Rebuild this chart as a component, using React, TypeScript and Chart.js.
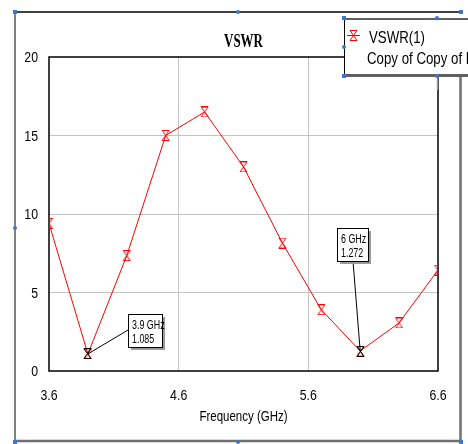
import React, { useEffect, useRef } from "react";
import { Chart, registerables } from "chart.js";

Chart.register(...registerables);

const frequencies = [3.6, 3.9, 4.2, 4.5, 4.8, 5.1, 5.4, 5.7, 6.0, 6.3, 6.6];
const vswr = [9.4, 1.085, 7.35, 15.0, 16.5, 13.0, 8.15, 3.9, 1.272, 3.06, 6.43];
const xTicks = [3.6, 4.6, 5.6, 6.6];
const yTicks = [0, 5, 10, 15, 20];
const markerFreqs = [3.9, 6.0];
const markerValues = [1.085, 1.272];
const markerLabels = [["3.9 GHz", "1.085"], ["6 GHz", "1.272"]];
const titleText = "VSWR";
const xAxisTitle = "Frequency (GHz)";
const legendLines = ["VSWR(1)", "Copy of Copy of D"];

const SANS = '"Liberation Sans", Arial, sans-serif';
const SQ = 0.82; // horizontal squeeze to mimic a narrow face

function narrowText(
  ctx: CanvasRenderingContext2D,
  text: string,
  x: number,
  y: number,
  size: number,
  align: CanvasTextAlign,
  baseline: CanvasTextBaseline = "alphabetic",
  squeeze: number = SQ
) {
  ctx.save();
  ctx.font = `${size}px ${SANS}`;
  ctx.textAlign = align;
  ctx.textBaseline = baseline;
  ctx.fillStyle = "#000";
  ctx.translate(x, y);
  ctx.scale(squeeze, 1);
  ctx.fillText(text, 0, 0);
  ctx.restore();
}

function hourglass(color: string): HTMLCanvasElement {
  const c = document.createElement("canvas");
  c.width = 9;
  c.height = 11;
  const g = c.getContext("2d")!;
  g.strokeStyle = color;
  g.lineWidth = 1;
  g.beginPath();
  g.moveTo(1, 0.5);
  g.lineTo(8, 0.5);
  g.lineTo(1, 10.5);
  g.lineTo(8, 10.5);
  g.closePath();
  g.stroke();
  return c;
}

function handle(ctx: CanvasRenderingContext2D, x: number, y: number, sq = false) {
  ctx.fillStyle = "#3a78d8";
  if (sq) ctx.fillRect(x - 2, y - 2, 4, 4);
  else {
    ctx.beginPath();
    ctx.arc(x, y, 2, 0, Math.PI * 2);
    ctx.fill();
  }
}

const decorPlugin = {
  id: "decor",
  beforeDraw(chart: any) {
    const ctx = chart.ctx as CanvasRenderingContext2D;
    ctx.save();
    ctx.fillStyle = "#ffffff";
    ctx.fillRect(0, 0, chart.width, chart.height);
    ctx.strokeStyle = "#000";
    ctx.lineWidth = 1.5;
    ctx.beginPath();
    ctx.moveTo(15, 12);
    ctx.lineTo(461, 12);
    ctx.stroke();
    ctx.strokeStyle = "#808080";
    ctx.lineWidth = 2;
    ctx.beginPath();
    ctx.moveTo(15, 12);
    ctx.lineTo(15, 442);
    ctx.stroke();
    ctx.strokeStyle = "#707070";
    ctx.lineWidth = 2.5;
    ctx.beginPath();
    ctx.moveTo(15, 441);
    ctx.lineTo(461, 441);
    ctx.moveTo(460.5, 75);
    ctx.lineTo(460.5, 442);
    ctx.stroke();
    ctx.restore();
  },
  beforeDatasetsDraw(chart: any) {
    const ctx = chart.ctx as CanvasRenderingContext2D;
    const a = chart.chartArea;
    ctx.save();
    ctx.strokeStyle = "#000";
    ctx.lineWidth = 1.5;
    ctx.strokeRect(a.left, a.top, a.right - a.left, a.bottom - a.top);
    ctx.restore();
  },
  afterDraw(chart: any) {
    const ctx = chart.ctx as CanvasRenderingContext2D;
    const xs = chart.scales.x;
    const ys = chart.scales.y;
    const a = chart.chartArea;
    ctx.save();
    // title
    ctx.fillStyle = "#000";
    ctx.font = 'bold 18px "Liberation Serif", "Times New Roman", serif';
    ctx.textAlign = "center";
    ctx.textBaseline = "alphabetic";
    ctx.save();
    ctx.translate(243.5, 46.5);
    ctx.scale(0.72, 1);
    ctx.fillText(titleText, 0, 0);
    ctx.restore();

    // tick labels
    xTicks.forEach((v) => {
      narrowText(ctx, v.toFixed(1), xs.getPixelForValue(v), a.bottom + 29, 15, "center");
    });
    yTicks.forEach((v) => {
      narrowText(ctx, String(v), a.left - 11, ys.getPixelForValue(v) + 1, 15, "right", "middle");
    });
    // x axis title
    narrowText(ctx, xAxisTitle, 243.5, 421, 14, "center");

    // annotations
    const black = hourglass("#000");
    const boxes = [
      { x: 128, y: 314, w: 34, h: 33, ax: 128, ay: 330 },
      { x: 337, y: 228, w: 31, h: 33, ax: 353, ay: 261 },
    ];
    markerFreqs.forEach((f, i) => {
      const px = xs.getPixelForValue(f);
      const py = ys.getPixelForValue(markerValues[i]);
      const b = boxes[i];
      ctx.strokeStyle = "#000";
      ctx.lineWidth = 1;
      ctx.beginPath();
      ctx.moveTo(b.ax, b.ay);
      ctx.lineTo(px, py);
      ctx.stroke();
      ctx.drawImage(black, Math.round(px - 4.5), Math.round(py - 5.5));
      ctx.fillStyle = "#9a9a9a";
      ctx.fillRect(b.x + 3, b.y + 3, b.w, b.h);
      ctx.fillStyle = "#fff";
      ctx.fillRect(b.x, b.y, b.w, b.h);
      ctx.strokeStyle = "#000";
      ctx.strokeRect(b.x + 0.5, b.y + 0.5, b.w, b.h);
      narrowText(ctx, markerLabels[i][0], b.x + 4, b.y + 15, 12, "left", "alphabetic", 0.74);
      narrowText(ctx, markerLabels[i][1], b.x + 4, b.y + 29, 12, "left", "alphabetic", 0.74);
    });

    // legend box
    ctx.fillStyle = "#fff";
    ctx.fillRect(344, 18, 130, 58);
    ctx.strokeStyle = "#000";
    ctx.lineWidth = 1;
    ctx.beginPath();
    ctx.moveTo(344.5, 18);
    ctx.lineTo(344.5, 76);
    ctx.stroke();
    ctx.strokeStyle = "#606060";
    ctx.lineWidth = 2;
    ctx.beginPath();
    ctx.moveTo(344, 19);
    ctx.lineTo(470, 19);
    ctx.stroke();
    ctx.lineWidth = 3;
    ctx.beginPath();
    ctx.moveTo(344, 75.5);
    ctx.lineTo(470, 75.5);
    ctx.stroke();
    ctx.strokeStyle = "#9a9a9a";
    ctx.lineWidth = 1.5;
    ctx.beginPath();
    ctx.moveTo(437.5, 77);
    ctx.lineTo(437.5, 90);
    ctx.stroke();
    ctx.strokeStyle = "#ff0000";
    ctx.lineWidth = 1;
    ctx.beginPath();
    ctx.moveTo(347, 35.5);
    ctx.lineTo(360, 35.5);
    ctx.stroke();
    ctx.drawImage(hourglass("#ff0000"), 349, 30);
    narrowText(ctx, legendLines[0], 369, 43, 17, "left", "alphabetic", 0.78);
    narrowText(ctx, legendLines[1], 367, 64, 17, "left", "alphabetic", 0.78);

    // selection handles
    handle(ctx, 15, 12, true);
    handle(ctx, 238, 12);
    handle(ctx, 461, 12, true);
    handle(ctx, 15, 228);
    handle(ctx, 15, 442, true);
    handle(ctx, 238, 442);
    handle(ctx, 461, 442, true);
    handle(ctx, 344, 18, true);
    handle(ctx, 344, 47);
    handle(ctx, 344, 76, true);
    handle(ctx, 437, 18);
    handle(ctx, 437, 76);
    ctx.restore();
  },
};

export default function App() {
  const ref = useRef<HTMLCanvasElement | null>(null);
  useEffect(() => {
    const canvas = ref.current!;
    const chart = new Chart(canvas, {
      type: "line",
      data: {
        datasets: [
          {
            label: legendLines[0],
            data: frequencies.map((f, i) => ({ x: f, y: vswr[i] })),
            borderColor: "#ff0000",
            backgroundColor: "#ff0000",
            borderWidth: 1,
            pointStyle: hourglass("#ff0000"),
            pointRadius: 5,
            tension: 0,
          },
        ],
      },
      options: {
        responsive: false,
        animation: false,
        events: [],
        layout: { padding: { top: 57, right: 30, left: 0, bottom: 0 } },
        plugins: {
          legend: { display: false },
          title: { display: false },
          tooltip: { enabled: false },
        },
        scales: {
          x: {
            type: "linear",
            min: 3.6,
            max: 6.6,
            afterBuildTicks: (s: any) => {
              s.ticks = xTicks.map((v) => ({ value: v }));
            },
            afterFit: (s: any) => {
              s.height = 73;
            },
            border: { display: false },
            grid: {
              drawTicks: false,
              color: (c: any) =>
                c.tick && (c.tick.value === 3.6 || c.tick.value === 6.6) ? "rgba(0,0,0,0)" : "#c4c4c4",
              lineWidth: 1,
            },
            ticks: { display: false },
          },
          y: {
            type: "linear",
            min: 0,
            max: 20,
            afterBuildTicks: (s: any) => {
              s.ticks = yTicks.map((v) => ({ value: v }));
            },
            afterFit: (s: any) => {
              s.width = 49;
            },
            border: { display: false },
            grid: {
              drawTicks: false,
              color: (c: any) =>
                c.tick && (c.tick.value === 0 || c.tick.value === 20) ? "rgba(0,0,0,0)" : "#c4c4c4",
              lineWidth: 1,
            },
            ticks: { display: false },
          },
        },
      },
      plugins: [decorPlugin],
    });
    return () => chart.destroy();
  }, []);
  return (
    <div style={{ position: "fixed", left: 0, top: 0, width: 468, height: 444, background: "#fff" }}>
      <canvas ref={ref} width={468} height={444} style={{ display: "block", width: 468, height: 444 }} />
    </div>
  );
}
